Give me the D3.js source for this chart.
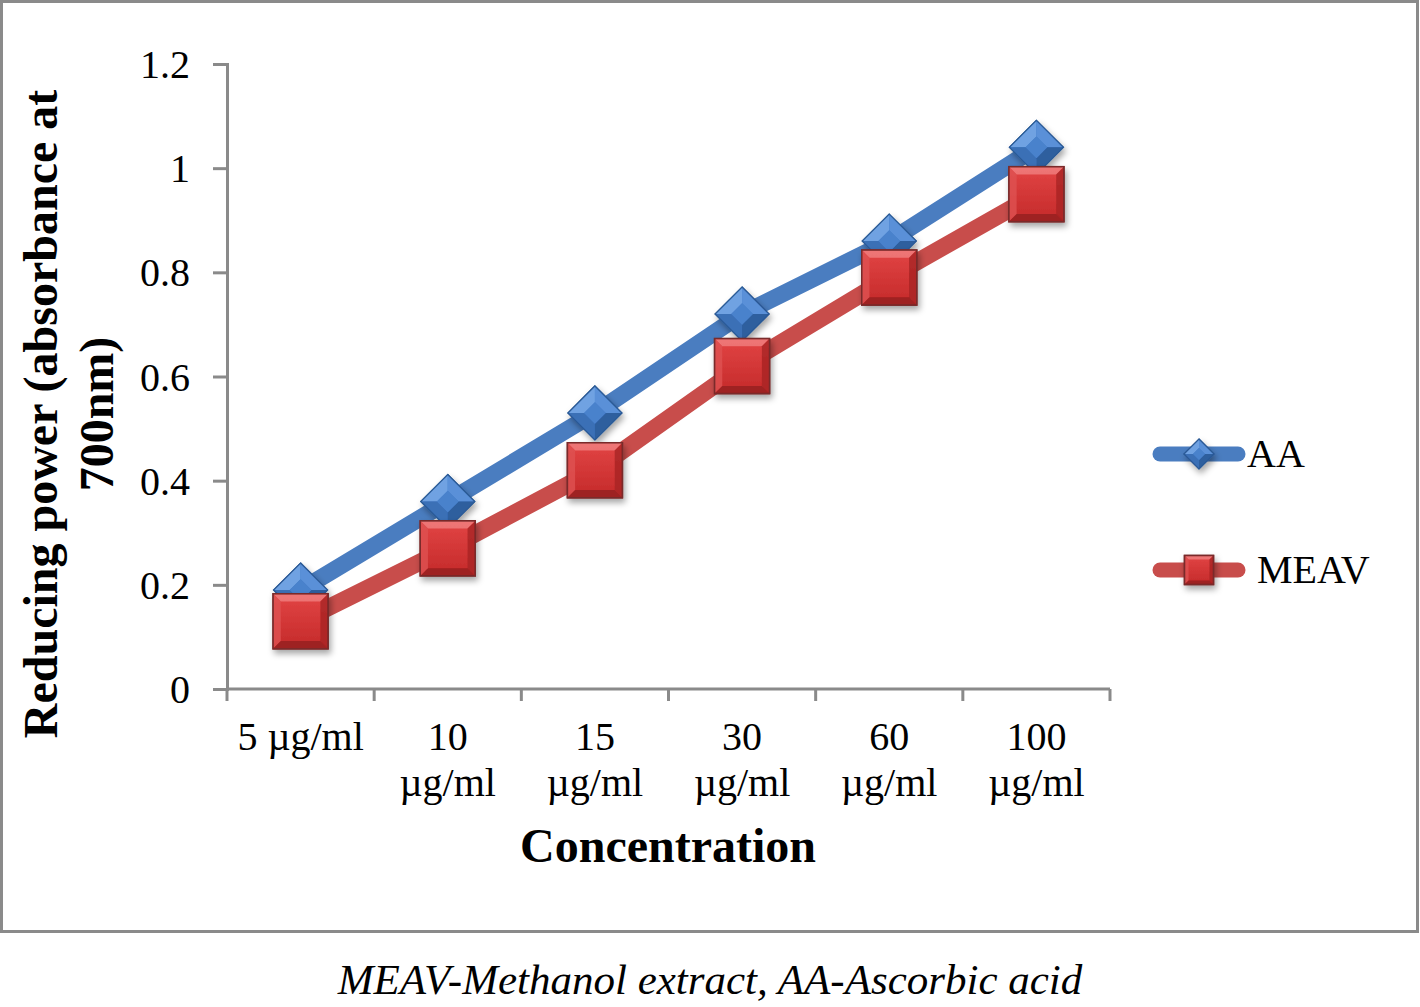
<!DOCTYPE html>
<html>
<head>
<meta charset="utf-8">
<script src="https://cdn.jsdelivr.net/npm/d3@7"></script>
<style>
  html, body { margin: 0; padding: 0; background: #fff; }
  svg { display: block; }
  text { font-family: "Liberation Serif", "Times New Roman", serif; fill: #000; }
</style>
</head>
<body>
<svg id="chart" width="1420" height="1007"></svg>
<script>
const categories = ["5 µg/ml", "10 µg/ml", "15 µg/ml", "30 µg/ml", "60 µg/ml", "100 µg/ml"];
const categoryLabelLines = [["5 µg/ml"], ["10", "µg/ml"], ["15", "µg/ml"], ["30", "µg/ml"], ["60", "µg/ml"], ["100", "µg/ml"]];
const seriesNames = ["AA", "MEAV"];
const aaValues = [0.19, 0.36, 0.53, 0.72, 0.86, 1.04];
const meavValues = [0.13, 0.27, 0.42, 0.62, 0.79, 0.95];
const yTickValues = [0, 0.2, 0.4, 0.6, 0.8, 1, 1.2];
const yTitleLines = ["Reducing power (absorbance at", "700nm)"];
const xTitle = "Concentration";
const caption = "MEAV-Methanol extract, AA-Ascorbic acid";

const svg = d3.select("#chart");
const defs = svg.append("defs");

const sh = defs.append("filter").attr("id", "shadow").attr("x", "-30%").attr("y", "-30%").attr("width", "170%").attr("height", "170%");
sh.append("feDropShadow").attr("dx", 2).attr("dy", 4).attr("stdDeviation", 3).attr("flood-color", "#000").attr("flood-opacity", 0.35);

const gRed = defs.append("linearGradient").attr("id", "gRed").attr("x1", 0).attr("y1", 0).attr("x2", 0).attr("y2", 1);
gRed.append("stop").attr("offset", "0%").attr("stop-color", "#E24444");
gRed.append("stop").attr("offset", "100%").attr("stop-color", "#C42A2A");

svg.append("rect").attr("x", 1.5).attr("y", 1.5).attr("width", 1416).attr("height", 930)
  .attr("fill", "#fff").attr("stroke", "#8a8a8a").attr("stroke-width", 3);

const x = d3.scaleBand().domain(categories).range([227, 1110]).padding(0);
const y = d3.scaleLinear().domain([0, 1.2]).range([689, 64]);
const cx = c => x(c) + x.bandwidth() / 2;

const axisColor = "#8a8a8a";

const yAxis = d3.axisLeft(y).tickValues(yTickValues).tickSize(14).tickPadding(23)
  .tickFormat(d => String(+d.toFixed(1)));
const gy = svg.append("g").attr("transform", "translate(227,0)").call(yAxis);
gy.select(".domain").attr("stroke", axisColor).attr("stroke-width", 3);
gy.selectAll(".tick line").attr("stroke", axisColor).attr("stroke-width", 3);
gy.selectAll(".tick text").attr("font-family", "Liberation Serif").attr("font-size", 40).attr("fill", "#000").attr("dy", "0.34em");

const gx = svg.append("g");
gx.append("line").attr("x1", 227).attr("x2", 1110).attr("y1", 689).attr("y2", 689)
  .attr("stroke", axisColor).attr("stroke-width", 3);
const boundaries = categories.map(c => x(c)).concat([x.range()[1]]);
gx.selectAll("line.tk").data(boundaries).enter().append("line").attr("class", "tk")
  .attr("x1", d => d).attr("x2", d => d).attr("y1", 689).attr("y2", 701)
  .attr("stroke", axisColor).attr("stroke-width", 3);
categories.forEach((c, i) => {
  const t = gx.append("text").attr("x", cx(c)).attr("y", 750).attr("text-anchor", "middle").attr("font-size", 40);
  categoryLabelLines[i].forEach((ln, j) => {
    t.append("tspan").attr("x", cx(c)).attr("y", 750 + j * 46).text(ln);
  });
});

svg.append("text").attr("x", 668).attr("y", 862).attr("text-anchor", "middle")
  .attr("font-size", 48).attr("font-weight", "bold").text(xTitle);
const yt = svg.append("text").attr("transform", "translate(0,414) rotate(-90)")
  .attr("text-anchor", "middle").attr("font-size", 48).attr("font-weight", "bold");
yTitleLines.forEach((ln, j) => {
  yt.append("tspan").attr("x", 0).attr("y", 57 + j * 56).text(ln);
});

svg.append("text").attr("x", 710).attr("y", 994).attr("text-anchor", "middle")
  .attr("font-size", 43).attr("font-style", "italic").text(caption);

function drawSquare(g, px, py, s) {
  const h = s / 2, b = s * 0.14;
  const m = g.append("g").attr("transform", `translate(${px},${py})`).attr("filter", "url(#shadow)");
  m.append("rect").attr("x", -h).attr("y", -h).attr("width", s).attr("height", s).attr("fill", "url(#gRed)")
    .attr("stroke", "#7a2a2a").attr("stroke-width", 1.5);
  m.append("polygon").attr("points", `${-h},${-h} ${h},${-h} ${h - b},${-h + b} ${-h + b},${-h + b}`).attr("fill", "#F07C7C").attr("opacity", 0.85);
  m.append("polygon").attr("points", `${-h},${-h} ${-h + b},${-h + b} ${-h + b},${h - b} ${-h},${h}`).attr("fill", "#DE5252").attr("opacity", 0.8);
  m.append("polygon").attr("points", `${h},${-h} ${h},${h} ${h - b},${h - b} ${h - b},${-h + b}`).attr("fill", "#A82424").attr("opacity", 0.8);
  m.append("polygon").attr("points", `${-h},${h} ${h},${h} ${h - b},${h - b} ${-h + b},${h - b}`).attr("fill", "#962020").attr("opacity", 0.85);
  m.append("rect").attr("x", -h).attr("y", -h).attr("width", s).attr("height", s).attr("fill", "none")
    .attr("stroke", "#7a2a2a").attr("stroke-width", 1.5);
}
function drawDiamond(g, px, py, s) {
  const h = s / 2, k = s * 0.2;
  const m = g.append("g").attr("transform", `translate(${px},${py})`).attr("filter", "url(#shadow)");
  m.append("polygon").attr("points", `0,${-h} ${h},0 0,${h} ${-h},0`).attr("fill", "#3F78C4").attr("stroke", "#2B5A96").attr("stroke-width", 1.2);
  m.append("polygon").attr("points", `0,${-h} ${-h},0 ${-k},0 0,${-k}`).attr("fill", "#6FA2E2");
  m.append("polygon").attr("points", `0,${-h} ${h},0 ${k},0 0,${-k}`).attr("fill", "#5A90D8");
  m.append("polygon").attr("points", `${-h},0 0,${h} 0,${k} ${-k},0`).attr("fill", "#3A6FB6");
  m.append("polygon").attr("points", `${h},0 0,${h} 0,${k} ${k},0`).attr("fill", "#2E5E9E");
  m.append("polygon").attr("points", `0,${-k} ${k},0 0,${k} ${-k},0`).attr("fill", "#4A82CC");
  m.append("polygon").attr("points", `0,${-h} ${h},0 0,${h} ${-h},0`).attr("fill", "none").attr("stroke", "#2B5A96").attr("stroke-width", 1.2);
}

const line = d3.line().x(d => cx(d.c)).y(d => y(d.v));
const aaData = categories.map((c, i) => ({ c, v: aaValues[i] }));
const meavData = categories.map((c, i) => ({ c, v: meavValues[i] }));

const plot = svg.append("g");
plot.append("path").datum(aaData).attr("d", line).attr("fill", "none").attr("stroke", "#4A7DC0")
  .attr("stroke-width", 17).attr("stroke-linejoin", "round").attr("stroke-linecap", "round");
aaData.forEach(d => drawDiamond(plot, cx(d.c), y(d.v), 54));
plot.append("path").datum(meavData).attr("d", line).attr("fill", "none").attr("stroke", "#C84D4B")
  .attr("stroke-width", 17).attr("stroke-linejoin", "round").attr("stroke-linecap", "round");
meavData.forEach(d => drawSquare(plot, cx(d.c), y(d.v), 55));

const lg = svg.append("g");
const legendRows = [
  { name: seriesNames[0], color: "#4A7DC0", yy: 454, tx: 1247, marker: "d" },
  { name: seriesNames[1], color: "#C84D4B", yy: 570, tx: 1257, marker: "s" }
];
legendRows.forEach(r => {
  lg.append("line").attr("x1", 1160).attr("x2", 1238).attr("y1", r.yy).attr("y2", r.yy)
    .attr("stroke", r.color).attr("stroke-width", 15).attr("stroke-linecap", "round");
  if (r.marker === "d") drawDiamond(lg, 1199, r.yy, 30); else drawSquare(lg, 1199, r.yy, 29);
  lg.append("text").attr("x", r.tx).attr("y", r.yy + 13).attr("font-size", 40).text(r.name);
});
</script>
</body>
</html>
